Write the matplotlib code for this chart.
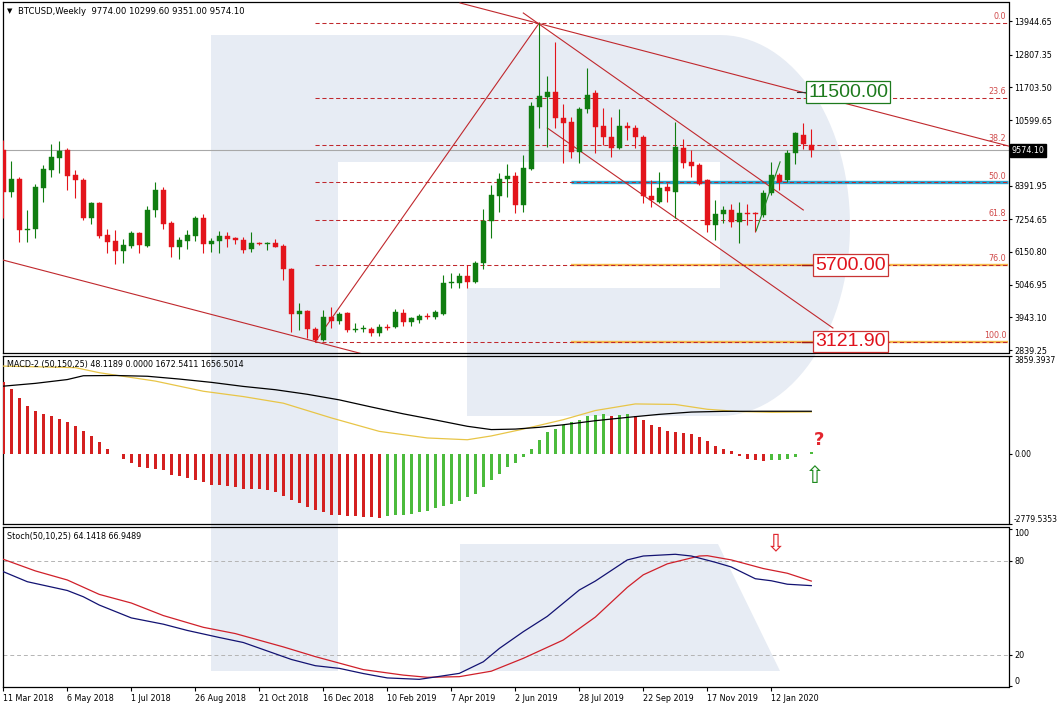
import numpy as np
import matplotlib.pyplot as plt
from matplotlib.patches import Polygon, Rectangle

# ---- weekly candles (week index 0 = 11 Mar 2018) ----
opens = [9590, 8170, 8610, 6890, 6920, 8310, 8920, 9320, 9590, 8750,
         8580, 7300, 7800, 6720, 6520, 6180, 6350, 6790, 6350, 7570,
         8240, 7130, 6320, 6520, 6690, 7300, 6420, 6520, 6690, 6620,
         6550, 6250, 6450, 6430, 6450, 6350, 5570, 4050, 4160, 3550,
         3180, 3950, 3820, 4090, 3510, 3550, 3550, 3410, 3620, 3620,
         4090, 3780, 3850, 3990, 3950, 4050, 5100, 5100, 5340, 5130,
         5780, 7190, 8040, 8610, 8710, 7730, 8950, 11040, 11380, 11550,
         10670, 10540, 9520, 10970, 11510, 10400, 10030, 9660, 10400, 10330,
         10030, 8040, 7840, 8340, 8170, 9660, 9190, 9080, 8580, 7060,
         7430, 7570, 7160, 7460, 7460, 7400, 8140, 8750, 8580, 9490,
         10100, 9774]
highs = [9930, 9220, 8680, 7570, 8440, 9080, 9790, 9890, 9660, 8920,
         8650, 7840, 7840, 6920, 6890, 6590, 6860, 6820, 7700, 8510,
         8340, 7190, 6650, 6890, 7360, 7430, 6620, 6860, 6820, 6650,
         6650, 6820, 6490, 6490, 6590, 6420, 5610, 4430, 4190, 3620,
         4190, 4290, 4120, 4120, 3750, 3680, 3620, 3720, 3720, 4220,
         4220, 3950, 4050, 4090, 4190, 5370, 5440, 5440, 5710, 5840,
         7600, 8410, 8810, 9120, 8850, 9420, 11210, 13880, 12090, 13240,
         11140, 10700, 11040, 12360, 11620, 11010, 10700, 10970, 10540, 10430,
         10100, 8580, 8850, 8480, 10540, 9960, 9590, 9150, 8600, 7900,
         7700, 7770, 7840, 7770, 7500, 8240, 9190, 8810, 9590, 10200,
         10500, 10299.6]
lows = [7300, 8000, 6490, 6490, 6620, 7840, 8680, 8810, 8240, 7970,
        7230, 7090, 6620, 6110, 5740, 5780, 6280, 6110, 6320, 7330,
        6920, 5980, 5910, 6250, 6520, 6110, 6150, 6110, 6320, 6420,
        6110, 6150, 6380, 6220, 6320, 5200, 3450, 3510, 3240, 3122,
        3150, 3580, 3720, 3450, 3450, 3450, 3310, 3310, 3510, 3580,
        3650, 3650, 3750, 3890, 3890, 4020, 4930, 4930, 4930, 5100,
        5570, 6620, 7500, 8000, 7460, 7500, 8910, 10330, 9690, 10330,
        9150, 9320, 9150, 10840, 9490, 9760, 9350, 9620, 9930, 9660,
        7800, 7670, 7800, 7840, 7300, 8980, 8680, 8410, 6820, 6550,
        7130, 6990, 6450, 7060, 6820, 7330, 8070, 8240, 8510, 9120,
        9620, 9351]
closes = [8170, 8610, 6890, 6920, 8340, 8950, 9350, 9560, 8710, 8580,
          7300, 7800, 6690, 6490, 6180, 6380, 6790, 6380, 7570, 8240,
          7090, 6320, 6550, 6720, 7300, 6420, 6520, 6690, 6590, 6550,
          6220, 6450, 6430, 6450, 6320, 5570, 4050, 4160, 3550, 3180,
          3950, 3820, 4050, 3510, 3550, 3560, 3410, 3620, 3590, 4120,
          3780, 3920, 3990, 3950, 4120, 5100, 5120, 5340, 5130, 5780,
          7190, 8070, 8610, 8710, 7730, 8980, 11080, 11410, 11550, 10670,
          10500, 9520, 10970, 11450, 10370, 10030, 9660, 10400, 10330, 10030,
          8040, 7900, 8310, 8210, 9690, 9150, 9050, 8440, 7060, 7430,
          7570, 7160, 7460, 7430, 7430, 8140, 8750, 8510, 9490, 10160,
          9790, 9574.1]

# ---- MACD-2 histogram, one bar per week ----
macd_hist = [2830, 2550, 2200, 1890, 1700, 1580, 1470, 1380, 1240, 1080,
             880, 680, 450, 200, -20, -210, -370, -540, -580, -590,
             -660, -830, -890, -970, -1030, -1130, -1220, -1250, -1290, -1320,
             -1370, -1390, -1400, -1420, -1490, -1680, -1820, -1950, -2100, -2210,
             -2310, -2410, -2430, -2450, -2470, -2500, -2510, -2515, -2470, -2430,
             -2410, -2380, -2310, -2250, -2140, -2050, -1970, -1850, -1720, -1580,
             -1320, -1030, -790, -530, -370, -130, 180, 550, 840, 990,
             1140, 1240, 1340, 1500, 1540, 1545, 1500, 1540, 1545, 1500,
             1340, 1140, 1040, 880, 870, 815, 775, 660, 490, 320,
             200, 90, -80, -210, -260, -300, -240, -235, -200, -130,
             -20, 48]
macd_wk = [0, 4, 8, 10, 14, 18, 22, 26, 30, 34, 38, 42, 46, 50, 54, 58, 61,
           64, 67, 70, 74, 78, 82, 86, 90, 95, 101]
macd_main = [2660, 2770, 2920, 3070, 3080, 3050, 2940, 2810, 2650, 2520, 2340,
             2120, 1840, 1570, 1330, 1080, 950, 970, 1040, 1140, 1300, 1430,
             1550, 1640, 1668, 1672, 1672]
signal_wk = [0, 9, 12, 19, 25, 30, 35, 41, 47, 53, 58, 61, 65, 70, 74, 79, 84,
             88, 92, 96, 101]
signal = [3450, 3390, 3190, 2860, 2460, 2250, 1990, 1410, 880, 620, 550, 700,
          970, 1340, 1700, 1960, 1940, 1750, 1660, 1630, 1645]

# ---- Stochastic ----
stoch_wk = [0, 3, 8, 10, 12, 16, 20, 23, 27, 30, 33, 36, 39, 42, 45, 48, 52,
            54, 57, 60, 62, 65, 68, 72, 74, 78, 80, 84, 86, 89, 91, 94, 96,
            98, 101]
stoch_main = [73, 66.6, 61, 57, 51.7, 43.5, 39.5, 35.5, 31, 27.8, 22.4, 17,
              13, 11.3, 8, 5.2, 4.3, 5.8, 8.1, 15.5, 24, 34.7, 44.5, 61.3, 67,
              80.5, 83, 84.1, 83, 79, 76, 68.5, 67.2, 65, 64.1]
stoch_sig_wk = [0, 4, 8, 12, 16, 20, 25, 29, 35, 39, 45, 50, 53, 57, 61, 65,
                70, 74, 78, 80, 83, 87, 88, 91, 95, 98, 101]
stoch_sig = [80.9, 73.5, 67.7, 58.5, 53, 45, 37.5, 33.5, 25, 18.8, 10.5, 7,
             5.6, 6, 9.5, 17.7, 29.4, 44, 63, 71, 78, 83, 83.2, 80.5, 75, 72,
             67]

# ---- drawn objects ----
fib_low, fib_high = 3121.9, 13880.0
fib_pcts = [0.0, 23.6, 38.2, 50.0, 61.8, 76.0, 100.0]
price_ticks = [13944.65, 12807.35, 11703.50, 10599.65, 8391.95, 7254.65,
               6150.80, 5046.95, 3943.10, 2839.25]
trend_lines = [((57.1, 14553), (125.65, 9725)),
               ((-0.1, 5880), (46, 2630)),
               ((39, 3122), (67, 13880)),
               ((65, 14215), (100, 7565)),
               ((68, 10333), (103.7, 3582))]
green_line = ((94.1, 6860), (97.1, 9190))
date_labels = ['11 Mar 2018', '6 May 2018', '1 Jul 2018', '26 Aug 2018',
               '21 Oct 2018', '16 Dec 2018', '10 Feb 2019', '7 Apr 2019',
               '2 Jun 2019', '28 Jul 2019', '22 Sep 2019', '17 Nov 2019',
               '12 Jan 2020']
last_price = 9574.1

W, H = 1060, 707
fig = plt.figure(figsize=(10.6, 7.07), dpi=100)
fig.patch.set_facecolor('white')


def fx(px):
    return px / W


def fy(py):
    return 1 - py / H


# watermark "R" (figure pixels)
wm = '#e7ecf4'
t = np.linspace(np.pi / 2, -np.pi / 2, 60)
arc = [(720 + 130 * np.cos(a), 225.5 - 190.5 * np.sin(a)) for a in t]
bowl = [(211, 35)] + arc + [(467, 416), (467, 288), (720, 288), (720, 162),
                            (338, 162), (338, 671), (211, 671)]
leg = [(460, 544), (718, 544), (780, 671), (460, 671)]
for shape in (bowl, leg):
    fig.add_artist(Polygon([(fx(x), fy(y)) for x, y in shape], closed=True,
                           facecolor=wm, edgecolor='none', zorder=-5,
                           transform=fig.transFigure))

XL = (-0.1, 125.65)
ax_p = fig.add_axes([fx(2.5), fy(352.5), 1006 / W, 350.5 / H])
ax_m = fig.add_axes([fx(2.5), fy(524.3), 1006 / W, 168.6 / H])
ax_s = fig.add_axes([fx(2.5), fy(686.7), 1006 / W, 160 / H])
for ax in (ax_p, ax_m, ax_s):
    ax.set_facecolor('none')
    ax.set_xlim(*XL)
    for sp in ax.spines.values():
        sp.set_linewidth(0.9)
        sp.set_color('black')
    ax.yaxis.tick_right()
    ax.tick_params(axis='y', direction='out', length=2.5, width=0.8,
                   labelsize=5.8, pad=1.5)
    ax.tick_params(axis='x', bottom=False, labelbottom=False)

# ---------------- price panel ----------------
ax_p.set_ylim(2755, 14586)
ax_p.axhline(last_price, color='#a8a8a8', lw=0.8, zorder=1)

rng = fib_high - fib_low
fib_vals = [fib_high - p / 100 * rng for p in fib_pcts]
ax_p.hlines(fib_vals[3], 71, XL[1], color='#2ba6d2', lw=2.4, zorder=2)
ax_p.hlines([fib_vals[5], fib_vals[6]], 71, XL[1], color='#f6b94a', lw=1.7,
            zorder=2)
ax_p.hlines(fib_vals, 39, XL[1], color='#c0282d', lw=0.75,
            linestyles=(0, (4, 2.6)), zorder=3)
for p, v in zip(fib_pcts, fib_vals):
    ax_p.annotate('%.1f' % p, (XL[1], v), xytext=(-1.5, 1.2),
                  textcoords='offset points', ha='right', va='bottom',
                  fontsize=5.8, color='#d04a4a')

for (x0, y0), (x1, y1) in trend_lines:
    ax_p.plot([x0, x1], [y0, y1], color='#c0282d', lw=0.8, zorder=3)
ax_p.plot([green_line[0][0], green_line[1][0]],
          [green_line[0][1], green_line[1][1]], color='#1e8a1e', lw=0.8,
          zorder=6)

up_col, dn_col = '#107d10', '#e3141b'
for i, (o, h, l, c) in enumerate(zip(opens, highs, lows, closes)):
    col = up_col if c >= o else dn_col
    ax_p.vlines(i, l, h, color=col, lw=0.8, zorder=4)
    ax_p.add_patch(Rectangle((i - 0.31, min(o, c)), 0.62,
                             max(abs(c - o), 28), facecolor=col,
                             edgecolor=col, lw=0.3, zorder=5))

# price level boxes
ax_p.plot([99.2, 100.5], [11560, 11560], color='#333333', lw=0.8, zorder=6)
ax_p.text(105.6, 11548, '11500.00', family='Liberation Sans', fontsize=14,
          color='#1d7a1d', ha='center', va='center', zorder=7,
          bbox=dict(boxstyle='square,pad=0.12', fc='white', ec='#1d7a1d',
                    lw=0.9))
for lvl, txt in ((fib_vals[5], '5700.00'), (fib_vals[6], '3121.90')):
    ax_p.plot([99.8, 101.3], [lvl, lvl], color='#a01818', lw=1.0, zorder=6)
    ax_p.text(105.9, lvl, txt, family='Liberation Sans', fontsize=14,
              color='#e0121c', ha='center', va='center', zorder=7,
              bbox=dict(boxstyle='square,pad=0.12', fc='white',
                        ec='#c83434', lw=0.9))

ax_p.set_yticks(price_ticks)
ax_p.set_yticklabels(['%.2f' % v for v in price_ticks])
ax_p.annotate('%.2f' % last_price, xy=(1, last_price),
              xycoords=('axes fraction', 'data'), xytext=(2.5, 0),
              textcoords='offset points', ha='left', va='center',
              fontsize=5.8, color='white', annotation_clip=False,
              bbox=dict(boxstyle='square,pad=0.2', fc='black', ec='black'))

# ---------------- MACD panel ----------------
ax_m.set_ylim(-2779.5353, 3859.3937)
cols = ['#d42020' if k == 0 or v <= macd_hist[k - 1] else '#4cbb3c'
        for k, v in enumerate(macd_hist)]
ax_m.bar(range(len(macd_hist)), macd_hist, width=0.34, color=cols, zorder=3)
ax_m.plot(signal_wk, signal, color='#e8c547', lw=0.9, zorder=4)
ax_m.plot(macd_wk, macd_main, color='black', lw=0.9, zorder=4)
ax_m.set_yticks([3859.3937, 0, -2779.5353])
ax_m.set_yticklabels(['3859.3937', '0.00', '-2779.5353'])
ax_m.tick_params(axis='y', labelsize=5.5)
tl = ax_m.get_yticklabels()
tl[0].set_va('top')
tl[2].set_va('bottom')

# ---------------- Stochastic panel ----------------
ax_s.set_ylim(-0.4, 101.7)
ax_s.axhline(80, color='#b4b4b4', lw=0.7, ls=(0, (4, 3)))
ax_s.axhline(20, color='#b4b4b4', lw=0.7, ls=(0, (4, 3)))
ax_s.plot(stoch_sig_wk, stoch_sig, color='#d0202a', lw=0.9, zorder=3)
ax_s.plot(stoch_wk, stoch_main, color='#121272', lw=0.9, zorder=4)
ax_s.set_yticks([100, 80, 20, 0])
ax_s.set_yticklabels(['100', '80', '20', '0'])
sl = ax_s.get_yticklabels()
sl[0].set_va('top')
sl[3].set_va('bottom')
ax_s.set_xticks(range(0, 97, 8))
ax_s.set_xticklabels(date_labels, ha='left')
ax_s.tick_params(axis='x', bottom=True, labelbottom=True, direction='out',
                 length=3, width=0.8, labelsize=5.8, pad=2)

# ---------------- texts ----------------
fig.text(fx(7), fy(11), '\u25bc', fontsize=5, va='center', ha='left')
fig.text(fx(18), fy(11), 'BTCUSD,Weekly  9774.00 10299.60 9351.00 9574.10',
         fontsize=6.1, va='center', ha='left')
fig.text(fx(7), fy(364), 'MACD-2 (50,150,25) 48.1189 0.0000 1672.5411 1656.5014',
         fontsize=5.8, va='center', ha='left')
fig.text(fx(7), fy(537), 'Stoch(50,10,25) 64.1418 66.9489',
         fontsize=5.8, va='center', ha='left')
fig.text(fx(819), fy(440), '?', fontsize=13, fontweight='bold',
         color='#e3262e', ha='center', va='center')
fig.text(fx(815), fy(476), '\u21e7', fontsize=17, color='#1e8a1e',
         ha='center', va='center')
fig.text(fx(776), fy(543), '\u21e9', fontsize=17, color='#e0262e',
         ha='center', va='center')

fig.savefig('out.png', dpi=100)
